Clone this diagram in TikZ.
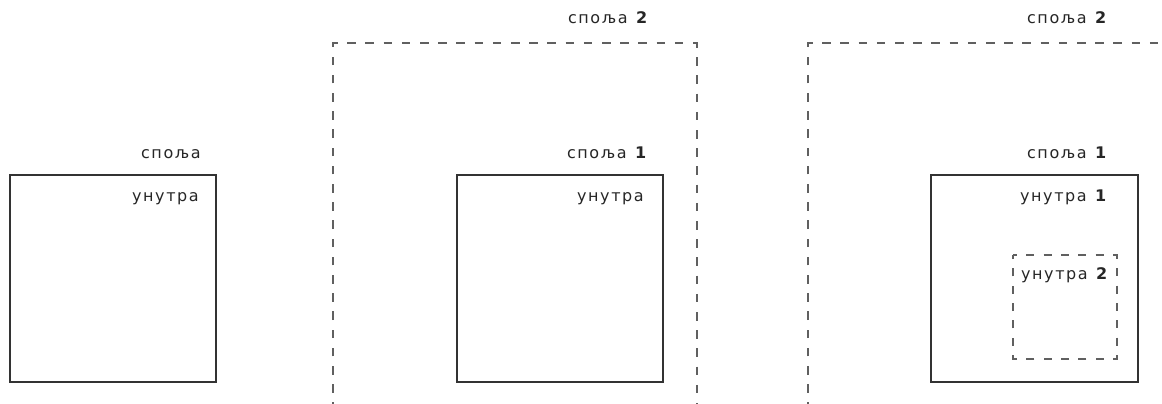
\documentclass[tikz,border=0pt]{standalone}
\usepackage{fontspec}
\usetikzlibrary{positioning}
\newfontfamily\lblfont[LetterSpace=10]{DejaVu Sans}
\definecolor{boxgray}{HTML}{333333}
\definecolor{dashgray}{HTML}{606060}
\tikzset{
  solidbox/.style={draw=boxgray, line width=0.9pt},
  outerdash/.style={draw=dashgray, line width=1.1pt, dash pattern=on 6.45pt off 7.2pt},
  innerdash/.style={draw=dashgray, line width=1.1pt, dash pattern=on 6pt off 7pt, dash phase=3pt},
  lbl/.style={anchor=base east, inner sep=0pt, text=black!85, font=\lblfont\fontsize{12}{14}\selectfont}
}
\begin{document}
\begin{tikzpicture}[x=0.75pt, y=-0.75pt]
  \clip (0,0) rectangle (1162,403);
  % first: one box
  \draw[solidbox] (10,175) rectangle (216,382);
  \node[lbl] (out0) at (201,158) {споља};
  \node[lbl] (in0) at (199,201) {унутра};
  % second: box inside dashed box
  \draw[outerdash] (333,447.4) -- (333,43) -- (697,43) -- (697,447.4);
  \node[lbl] (outB2) at (649,24) {споља \textbf{2}};
  \draw[solidbox] (457,175) rectangle (663,382);
  \node[lbl] (outB1) at (648,158) {споља \textbf{1}};
  \node[lbl] (inB) at (644,201) {унутра};
  % third: dashed box inside box inside dashed box
  \draw[outerdash] (808,447.4) -- (808,43) -- (1172,43) -- (1172,447.4);
  \node[lbl] (outC2) at (1108,24) {споља \textbf{2}};
  \draw[solidbox] (931,175) rectangle (1138,382);
  \node[lbl] (outC1) at (1108,158) {споља \textbf{1}};
  \node[lbl] (inC1) at (1108,201) {унутра \textbf{1}};
  \draw[innerdash] (1013,255) -- (1117,255) -- (1117,359) -- (1013,359) -- cycle;
  \node[lbl] (inC2) at (1109,279) {унутра \textbf{2}};
\end{tikzpicture}
\end{document}
